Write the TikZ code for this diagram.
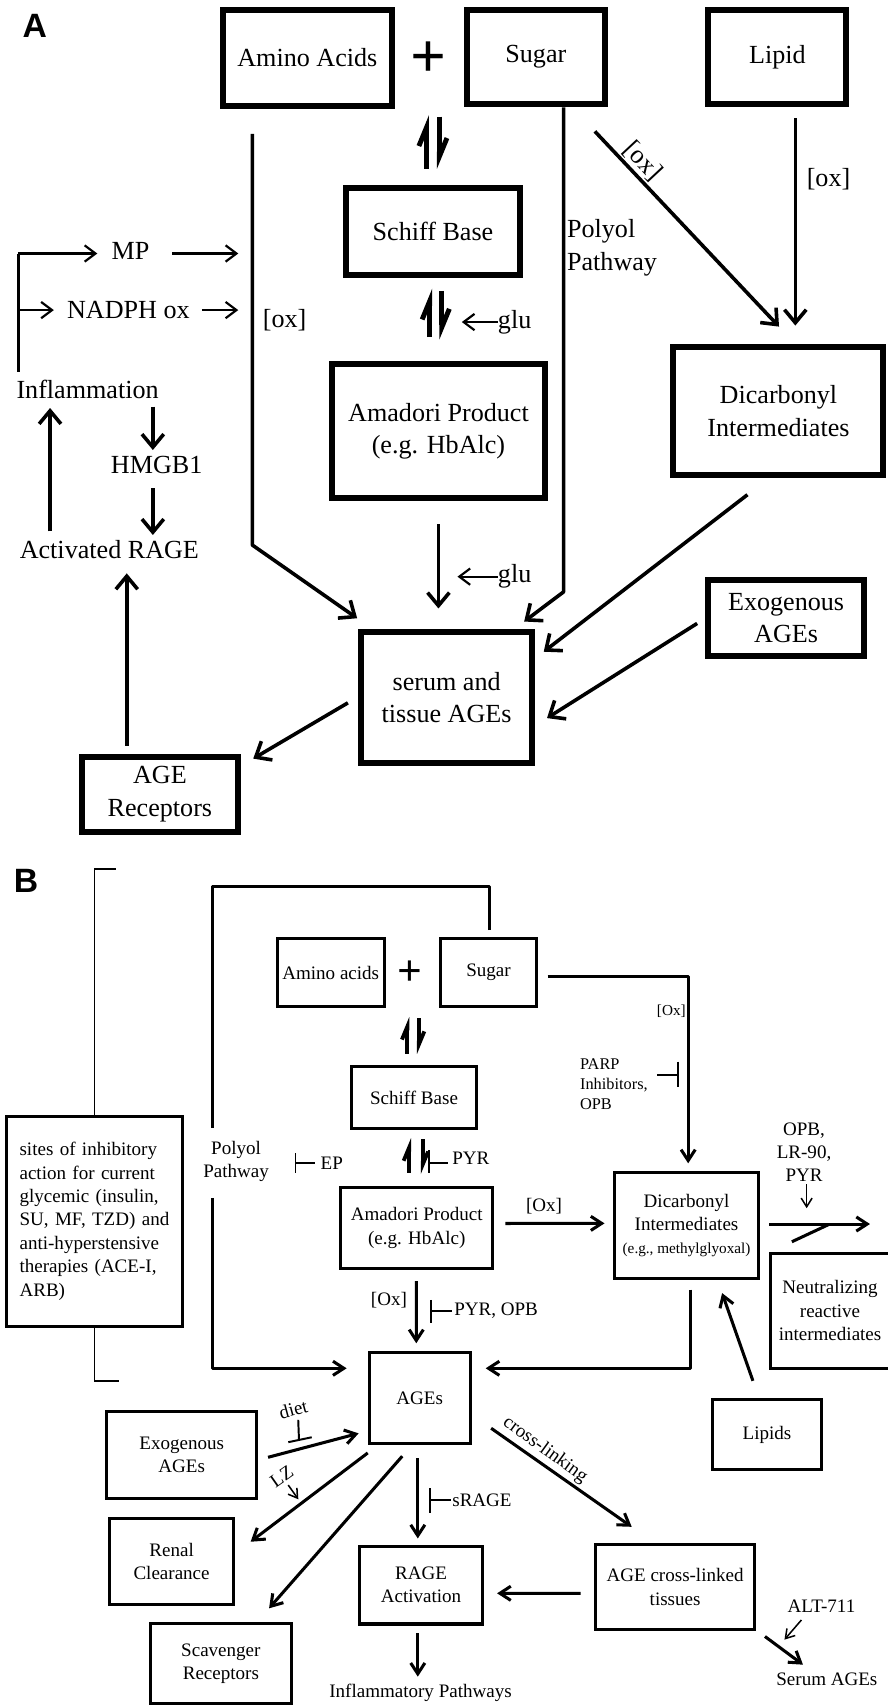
\documentclass[tikz,border=0pt]{standalone}
\usepackage{fontspec}
\setmainfont{Liberation Serif}
\newfontfamily\labfont{Liberation Sans}
\usetikzlibrary{arrows.meta,calc}
\newcommand{\fntA}{\fontsize{24}{30}\selectfont}
\newcommand{\fntB}{\fontsize{17.5}{21.5}\selectfont}
\newcommand{\fntS}{\fontsize{15}{18.3}\selectfont}
\newcommand{\fntXS}{\fontsize{14}{17}\selectfont}
\begin{document}
\begin{tikzpicture}[x=1pt,y=-1pt,
 boxA/.style={draw, line width=5.5pt, inner sep=0pt, align=center, font=\fntA},
 boxB/.style={draw, line width=2.8pt, inner sep=0pt, align=center, font=\fntB},
 txtA/.style={inner sep=0pt, align=center, font=\fntA},
 txtB/.style={inner sep=0pt, align=center, font=\fntB},
 txtS/.style={inner sep=0pt, align=left, font=\fntS},
 txtXS/.style={inner sep=0pt, align=center, font=\fntXS},
 arrA/.style={line width=3.3pt, line join=round, -{Straight Barb[length=12pt,width=20pt]}},
 lnA/.style={line width=3pt},
 thinA/.style={line width=2pt, -{Straight Barb[length=10pt,width=15pt]}},
 harpA/.style={line width=4.5pt, -{Straight Barb[harpoon,length=17pt,width=14pt]}},
 arrB/.style={line width=2.8pt, line join=round, -{Straight Barb[length=10pt,width=13pt]}},
 lnB/.style={line width=2.8pt},
 harpB/.style={line width=3.5pt, -{Straight Barb[harpoon,length=12pt,width=10pt]}},
 thinB/.style={line width=1.4pt, -{Straight Barb[length=8pt,width=10pt]}},
 inhB/.style={line width=1.8pt},
 brk/.style={line width=1.5pt},
 plusA/.style={inner sep=0pt, font=\bfseries\fontsize{58}{58}\selectfont},
 plusB/.style={inner sep=0pt, font=\bfseries\fontsize{40}{40}\selectfont},
 lab/.style={inner sep=0pt, font=\labfont\bfseries\fontsize{31}{31}\selectfont}
]
\useasboundingbox (0,0) rectangle (816,1568);
\fill[white] (0,0) rectangle (816,1568);

%================ PANEL A ================
\node[lab] (labA) at (32,24) {A};
\node[boxA, minimum width=155pt, minimum height=88pt] (aminoA) at (282.5,53) {Amino Acids};
\node[plusA] (plA) at (394,55) {+};
\node[boxA, minimum width=127pt, minimum height=87pt] (sugarA) at (492.5,52.5) {Sugar};
\node[boxA, minimum width=127pt, minimum height=87pt] (lipidA) at (714.5,52.5) {Lipid};
\node[boxA, minimum width=160pt, minimum height=80pt] (schiffA) at (398,213) {Schiff Base};
\node[boxA, minimum width=196pt, minimum height=123pt] (amadA) at (403,396.5) {Amadori Product\\(e.g. HbAlc)};
\node[boxA, minimum width=193pt, minimum height=117.5pt] (dicarbA) at (715.5,377.7) {Dicarbonyl\\Intermediates};
\node[boxA, minimum width=157pt, minimum height=121pt] (serumA) at (410.5,641) {serum and\\tissue AGEs};
\node[boxA, minimum width=143pt, minimum height=70pt] (exoA) at (722.5,568) {Exogenous\\AGEs};
\node[boxA, minimum width=143pt, minimum height=69pt] (recA) at (147,730) {AGE\\Receptors};

\node[txtA] (mpA) at (120,231) {MP};
\node[txtA] (nadphA) at (118,285) {NADPH ox};
\node[txtA] (inflA) at (80.5,357.8) {Inflammation};
\node[txtA] (hmgbA) at (144,427.3) {HMGB1};
\node[txtA] (ragA) at (100.5,505.5) {Activated RAGE};
\node[txtA] (oxA1) at (261.6,294) {[ox]};
\node[txtA] (glu1) at (473,296) {glu};
\node[txtA] (glu2) at (473,530) {glu};
\node[txtA, align=left, anchor=west] (polA) at (521,227.5) {Polyol\\Pathway};
\node[txtA, rotate=-47] (oxA2) at (591,148) {[ox]};
\node[txtA] (oxA3) at (761.5,165) {[ox]};

% free-end coordinates
\coordinate (oxTop) at (232,123);
\coordinate (oxBend) at (232,501);
\coordinate (polBend) at (518,544);
\coordinate (inflBot) at (17,341.6);
\coordinate (inflTop) at (17,233);
\coordinate (inflMid) at (17,285);

% equilibria
\draw[harpA] ($(schiffA.north)+(-6,-15)$) -- ($(schiffA.north)+(-6,-64.4)$);
\draw[harpA] ($(schiffA.north)+(5.8,-63)$) -- ($(schiffA.north)+(5.8,-15)$);
\draw[harpA] ($(amadA.north)+(-8,-22.5)$) -- ($(amadA.north)+(-8,-67)$);
\draw[harpA] ($(amadA.north)+(3,-65)$) -- ($(amadA.north)+(3,-20)$);
\draw[thinA] (glu1.west) -- ++(-33,0);
\draw[thinA] (glu2.west) -- ++(-37,0);

\draw[arrA] ($(amadA.south)+(0,21)$) -- ($(serumA.north)+(-7.5,-18.5)$);
\draw[arrA] (oxTop) -- (oxBend) -- ($(serumA.north west)+(-1,-9.5)$);
\draw[arrA] ($(sugarA.south)+(25.5,0)$) -- (polBend) -- ($(serumA.north east)+(-10,-6.5)$);
\draw[arrA] ($(sugarA.south east)+(-12,22)$) -- ($(dicarbA.north)+(0.5,-16)$);
\draw[arrA] ($(lipidA.south)+(16.5,10)$) -- ($(dicarbA.north)+(15.5,-17)$);
\draw[arrA] ($(dicarbA.south)+(-28.5,15.5)$) -- ($(serumA.east)+(8,-42)$);
\draw[arrA] ($(exoA.west)+(-7.5,5)$) -- ($(serumA.east)+(11,19)$);
\draw[arrA] ($(serumA.west)+(-9.5,5)$) -- ($(recA.north east)+(11.5,4.5)$);
\draw[arrA] ($(recA.north)+(-30.5,-7.5)$) -- ($(ragA.center)+(16,21.5)$);
\draw[arrA] ($(ragA.center)+(-54.5,-17)$) -- ($(inflA.center)+(-34.5,17.2)$);
\draw[arrA] ($(inflA.center)+(60,16)$) -- ($(hmgbA.center)+(-3.5,-13.7)$);
\draw[arrA] ($(hmgbA.center)+(-3.5,21.5)$) -- ($(ragA.center)+(40,-13.8)$);

\draw[lnA, line join=round] (inflBot) -- (inflTop);
\draw[thinA] (inflTop) -- ($(mpA.west)+(-13,2)$);
\draw[thinA] (inflMid) -- ($(nadphA.west)+(-12,0)$);
\draw[thinA] ($(mpA.east)+(21,2)$) -- ($(oxTop)+(-13,110)$);
\draw[thinA] ($(nadphA.east)+(11,0)$) -- ($(oxTop)+(-13,162)$);

%================ PANEL B ================
\node[lab] (labB) at (24,810) {B};
\node[boxB, minimum width=98pt, minimum height=62pt] (aminoB) at (304,894) {Amino acids};
\node[plusB] (plB) at (377,894.6) {+};
\node[boxB, minimum width=88pt, minimum height=62pt] (sugarB) at (449,894) {Sugar};
\node[boxB, minimum width=115pt, minimum height=57pt] (schiffB) at (380.5,1009) {Schiff Base};
\node[boxB, minimum width=140pt, minimum height=75pt] (amadB) at (383,1128.5) {Amadori Product\\(e.g. HbAlc)};
\node[boxB, minimum width=132pt, minimum height=97pt] (dicarbB) at (631,1126.4) {Dicarbonyl\\Intermediates\\{\fntXS(e.g., methylglyoxal)}};
\node[boxB, minimum width=110pt, minimum height=105.6pt] (neutB) at (762.9,1204.8) {Neutralizing\\reactive\\intermediates};
\node[boxB, minimum width=92.6pt, minimum height=84pt] (agesB) at (385.7,1285) {AGEs};
\node[boxB, minimum width=100pt, minimum height=65pt] (lipidsB) at (705,1318.5) {Lipids};
\node[boxB, minimum width=138pt, minimum height=80pt] (exoB) at (167,1337) {Exogenous\\AGEs};
\node[boxB, minimum width=114.5pt, minimum height=79.6pt] (renalB) at (157.7,1435.2) {Renal\\Clearance};
\node[boxB, minimum width=130pt, minimum height=73pt] (scavB) at (203,1529) {Scavenger\\Receptors};
\node[boxB, minimum width=113pt, minimum height=71.6pt] (rageB) at (387,1456.8) {RAGE\\Activation};
\node[boxB, minimum width=145.8pt, minimum height=78pt] (crossB) at (620.5,1458.5) {AGE cross-linked\\tissues};
\node[boxB, align=left, text width=138pt, inner xsep=12pt, minimum height=193pt] (inhibB) at (87,1122.4)
 {sites of inhibitory\\action for current\\glycemic (insulin,\\SU, MF, TZD) and\\anti-hyperstensive\\therapies (ACE-I,\\ARB)};

\node[txtB] (polB) at (217,1067.5) {Polyol\\Pathway};
\node[txtB] (epB) at (305,1069) {EP};
\node[txtB] (pyrB1) at (432.7,1064.6) {PYR};
\node[txtS, anchor=west] (parpB) at (533,996.5) {PARP\\Inhibitors,\\OPB};
\node[txtXS] (oxB1) at (617,929.8) {[Ox]};
\node[txtB] (oxB2) at (500,1108.4) {[Ox]};
\node[txtB] (oxB3) at (357.5,1194.8) {[Ox]};
\node[txtB] (pyrB2) at (456,1205) {PYR, OPB};
\node[txtB] (opbB) at (739,1059) {OPB,\\LR-90,\\PYR};
\node[txtB] (sragB) at (443,1378.6) {sRAGE};
\node[txtB, rotate=15] (dietB) at (269.6,1295.3) {diet};
\node[txtB, rotate=35] (lzB) at (258.9,1357.2) {LZ};
\node[txtB, rotate=-36] (clB) at (501,1332.6) {cross-linking};
\node[txtB] (inflB) at (386.5,1556) {Inflammatory Pathways};
\node[txtB] (altB) at (755,1476.6) {ALT-711};
\node[txtB] (serB) at (760,1543) {Serum AGEs};

\coordinate (loopA) at (450,815);
\coordinate (loopB) at (195,815);
\coordinate (loopC) at (195,1037);
\coordinate (loopD) at (195,1101);
\coordinate (loopE) at (195,1257.6);
\coordinate (oxCorner) at (632.5,897.6);
\coordinate (dcCorner) at (635,1257.6);
\coordinate (neutEnd) at (799.6,1125);

% bracket
\draw[brk] (inhibB.north) -- ++(0,-225.9) -- ++(20,0);
\draw[brk] (inhibB.south) -- ++(0,49) -- ++(22,0);

% loop (polyol)
\draw[lnB, line join=round] ($(sugarB.north)+(1,-6.7)$) -- (loopA) -- (loopB) -- (loopC);
\draw[arrB] (loopD) -- (loopE) -- ($(agesB.west)+(-19.4,-27.4)$);
\draw[inhB] ($(epB.west)+(-23,-9)$) -- ++(0,18) ($(epB.west)+(-23,0)$) -- ++(18,0);

% sugar -> dicarbonyl
\draw[arrB] ($(sugarB.east)+(9,3.6)$) -- (oxCorner) -- ($(dicarbB.north)+(1.5,-7.3)$);
\draw[inhB] ($(parpB.west)+(71,-8.5)$) -- ++(19,0) ($(parpB.west)+(90,-20.8)$) -- ++(0,23);

% equilibria
\draw[harpB] ($(schiffB.north)+(-6.1,-10.8)$) -- ($(schiffB.north)+(-6.1,-44.4)$);
\draw[harpB] ($(schiffB.north)+(4.5,-43.4)$) -- ($(schiffB.north)+(4.5,-10.4)$);
\draw[harpB] ($(amadB.north)+(-7,-11.5)$) -- ($(amadB.north)+(-7,-43.5)$);
\draw[harpB] ($(amadB.north)+(5.5,-42.5)$) -- ($(amadB.north)+(5.5,-10.5)$);
\draw[inhB] ($(pyrB1.west)+(-21,-7.6)$) -- ++(0,21) ($(pyrB1.west)+(-21,4.4)$) -- ++(17,0);

% amadori out
\draw[arrB] ($(amadB.east)+(10,-4)$) -- ($(dicarbB.west)+(-8,-2)$);
\draw[arrB] ($(amadB.south)+(-0.4,10)$) -- ($(agesB.north)+(-3.1,-7)$);
\draw[inhB] ($(pyrB2.west)+(-21.4,-10.2)$) -- ++(0,21.2) ($(pyrB2.west)+(-21.4,0)$) -- ++(19.4,0);

% dicarbonyl out
\draw[arrB] ($(dicarbB.south)+(4,9)$) -- (dcCorner) -- ($(agesB.east)+(13,-27.4)$);
\draw[arrB] ($(dicarbB.east)+(8.5,-1.4)$) -- (neutEnd);
\draw[lnB] ($(neutB.north west)+(21.3,-9.3)$) -- ($(neutB.north west)+(55.3,-25.2)$);
\draw[thinB] ($(opbB.south)+(2.4,2)$) -- ($(opbB.south)+(2.4,24)$);
\draw[arrB] ($(lipidsB.north)+(-13,-15.5)$) -- ($(dicarbB.south)+(32.7,12.2)$);

% exogenous
\draw[arrB] ($(exoB.east)+(9,2.4)$) -- ($(agesB.west)+(-8.4,32.4)$);
\draw[inhB] ($(dietB.center)+(4.5,9.7)$) -- ($(dietB.center)+(5.2,28.2)$);
\draw[inhB] ($(dietB.center)+(-4.6,30.2)$) -- ($(dietB.center)+(16.9,25.7)$);

% AGEs out
\draw[arrB] ($(agesB.south west)+(0,7)$) -- ($(renalB.north east)+(14,23)$);
\draw[thinB] ($(lzB.center)+(6,7.7)$) -- ($(lzB.center)+(15.3,20.8)$);
\draw[arrB] ($(agesB.south)+(-16,10)$) -- ($(scavB.north)+(44.3,-12.9)$);
\draw[arrB] ($(agesB.south)+(-1.7,11.8)$) -- ($(rageB.north)+(-3,-5.6)$);
\draw[inhB] ($(sragB.west)+(-20,-10.6)$) -- ++(0,23) ($(sragB.west)+(-20,0)$) -- ++(19,0);
\draw[arrB] ($(rageB.south)+(-3,7)$) -- ($(inflB.center)+(-2.5,-15)$);
\draw[arrB] ($(agesB.east)+(18,27.7)$) -- ($(crossB.north west)+(34.4,-14.8)$);
\draw[arrB] ($(crossB.west)+(-12.6,5.9)$) -- ($(rageB.east)+(12,7.6)$);
\draw[arrB] ($(crossB.south east)+(8.3,5.2)$) -- ($(serB.center)+(-22,-13)$);
\draw[thinB] ($(altB.center)+(-18.4,12.3)$) -- ($(altB.center)+(-34,30.4)$);
\end{tikzpicture}
\end{document}
